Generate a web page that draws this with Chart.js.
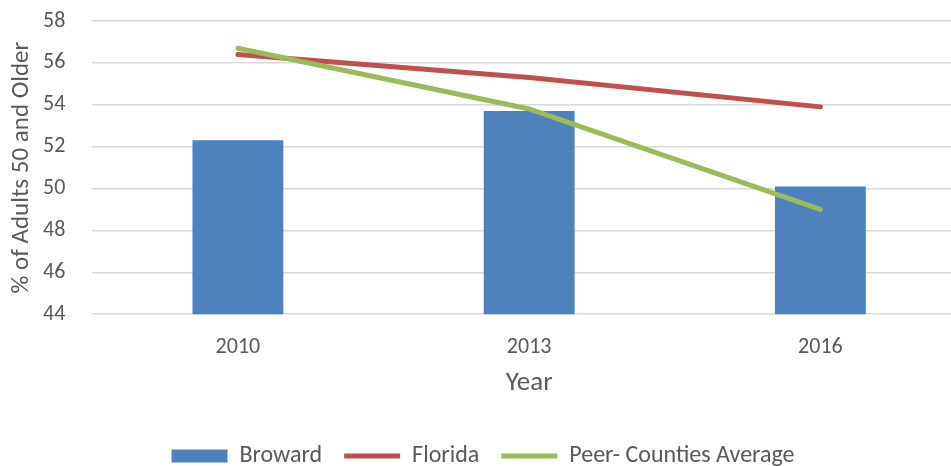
<!DOCTYPE html>
<html>
<head>
<meta charset="utf-8">
<script src="https://cdn.jsdelivr.net/npm/chart.js@4"></script>
<style>
  html, body { margin: 0; padding: 0; overflow: hidden; background: #fff; }
  #wrap { position: absolute; left: 0; top: 0; width: 975px; height: 466px; }
</style>
</head>
<body>
<div id="wrap"><canvas id="chart" width="975" height="466"></canvas></div>
<script>
const years = ['2010', '2013', '2016'];
const broward = [52.3, 53.7, 50.1];
const florida = [56.4, 55.3, 53.9];
const peerAvg = [56.7, 53.8, 49.0];

const textColor = '#595959';
const fontFamily = 'Carlito, Lato, sans-serif';

const ctx = document.getElementById('chart').getContext('2d');
const chart = new Chart(ctx, {
    type: 'bar',
    data: {
        labels: years,
        datasets: [
            {
                label: 'Broward',
                data: broward,
                backgroundColor: '#4f81bd',
                borderWidth: 0,
                categoryPercentage: 1,
                barPercentage: 0.312,
                pointStyle: 'rect',
                order: 3
            },
            {
                type: 'line',
                label: 'Florida',
                data: florida,
                borderColor: '#c0504d',
                backgroundColor: '#c0504d',
                borderWidth: 5,
                borderCapStyle: 'round',
                pointRadius: 0,
                pointStyle: 'line',
                tension: 0,
                order: 2
            },
            {
                type: 'line',
                label: 'Peer- Counties Average',
                data: peerAvg,
                borderColor: '#9bbb59',
                backgroundColor: '#9bbb59',
                borderWidth: 5,
                borderCapStyle: 'round',
                pointRadius: 0,
                pointStyle: 'line',
                tension: 0,
                order: 1
            }
        ]
    },
    options: {
        responsive: false,
        animation: false,
        // negative bottom pads the legend down close to the edge
        layout: { padding: { top: 21, right: 9, bottom: -12, left: 0 } },
        plugins: {
            tooltip: { enabled: false },
            legend: {
                position: 'bottom',
                reverse: true,
                labels: {
                    usePointStyle: true,
                    pointStyleWidth: 56,
                    boxHeight: 13,
                    padding: 22,
                    color: textColor,
                    font: { family: fontFamily, size: 24 }
                }
            }
        },
        scales: {
            x: {
                grid: { display: false, drawTicks: true, tickLength: 20 },
                border: { display: false },
                ticks: { color: textColor, padding: 0, font: { family: fontFamily, size: 22 } },
                title: {
                    display: true,
                    text: 'Year',
                    color: textColor,
                    font: { family: fontFamily, size: 27 },
                    padding: { top: 6, bottom: 23 }
                }
            },
            y: {
                min: 44,
                max: 58,
                grid: { color: '#d9d9d9', lineWidth: 1.5, drawTicks: true, tickLength: 27, tickColor: 'rgba(0,0,0,0)' },
                border: { display: false },
                ticks: { stepSize: 2, color: textColor, padding: 0, font: { family: fontFamily, size: 22 } },
                title: {
                    display: true,
                    text: '% of Adults 50 and Older',
                    color: textColor,
                    font: { family: fontFamily, size: 25 },
                    padding: { top: 7, bottom: 6 }
                }
            }
        }
    }
});
</script>
</body>
</html>
